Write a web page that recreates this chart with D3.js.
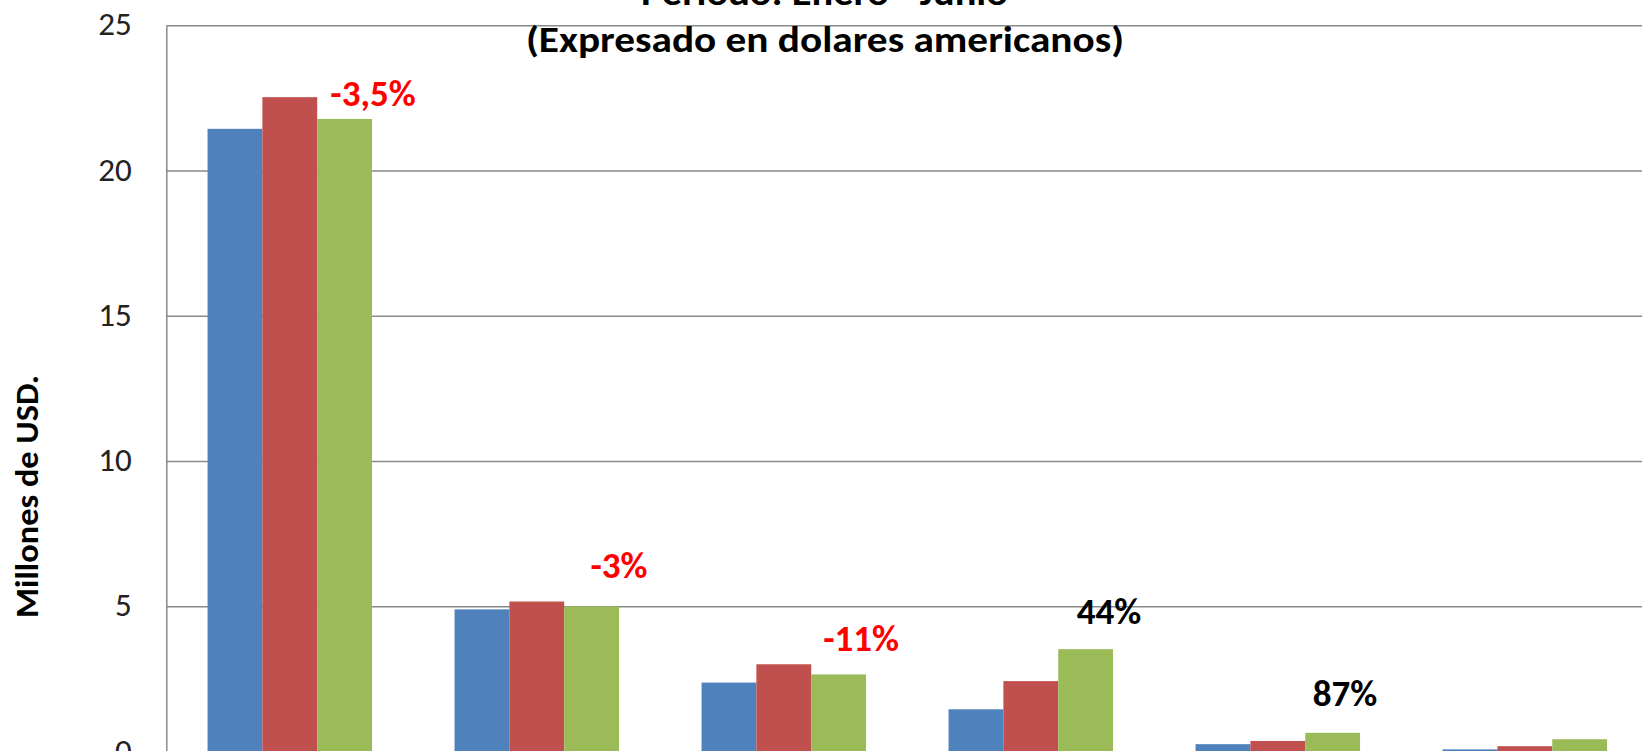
<!DOCTYPE html>
<html>
<head>
<meta charset="utf-8">
<script src="https://cdn.jsdelivr.net/npm/d3@7"></script>
<style>
  body { margin: 0; background: #fff; overflow: hidden; }
  svg { display: block; font-family: Carlito, Calibri, Lato, sans-serif; }
</style>
</head>
<body>
<svg id="chart" width="1642" height="751"></svg>
<script>
// values, millones de USD
var categorias = ["Rubro 1", "Rubro 2", "Rubro 3", "Rubro 4", "Rubro 5", "Rubro 6"];
var series = ["Año 1", "Año 2", "Año 3"];
var anio1 = [21.45, 4.91, 2.39, 1.47, 0.27, 0.09];
var anio2 = [22.54, 5.18, 3.02, 2.44, 0.38, 0.20];
var anio3 = [21.79, 5.01, 2.67, 3.54, 0.66, 0.44];
var yTicks = [0, 5, 10, 15, 20, 25];
var variacion = ["-3,5%", "-3%", "-11%", "44%", "87%"];

var colores = ["#4F81BD", "#C0504D", "#9BBB59"];
var valores = [anio1, anio2, anio3];

var svg = d3.select("#chart");

var x = d3.scaleBand()
    .domain(categorias)
    .range([166.3, 1648.3])
    .paddingInner(0.334)
    .paddingOuter(0.167);
var xs = d3.scaleBand()
    .domain(series)
    .range([0, x.bandwidth()]);
var y = d3.scaleLinear()
    .domain([0, 25])
    .range([752, 25.7]);

// gridlines
svg.append("g").selectAll("line.grid")
    .data(yTicks)
  .enter().append("line")
    .attr("x1", x.range()[0]).attr("x2", x.range()[1])
    .attr("y1", function(d) { return y(d); })
    .attr("y2", function(d) { return y(d); })
    .attr("stroke", "#8a8a8a").attr("stroke-width", 1.5);

// y axis
var yAxis = svg.append("g")
    .attr("transform", "translate(" + x.range()[0] + ",0)")
    .call(d3.axisLeft(y).tickValues(yTicks).tickSize(0).tickPadding(34.6));
yAxis.select(".domain").attr("stroke", "#8a8a8a").attr("stroke-width", 1.5);
yAxis.selectAll("text")
    .attr("font-family", "Carlito, Calibri, Lato, sans-serif")
    .attr("font-size", 33).attr("fill", "#222").attr("dy", "0.28em");

// bars
var grupos = svg.append("g").selectAll("g.grupo")
    .data(categorias)
  .enter().append("g")
    .attr("transform", function(d) { return "translate(" + x(d) + ",0)"; });
grupos.selectAll("rect")
    .data(function(d, i) {
      return series.map(function(s, j) { return { serie: s, valor: valores[j][i], color: colores[j] }; });
    })
  .enter().append("rect")
    .attr("x", function(d) { return xs(d.serie); })
    .attr("y", function(d) { return y(d.valor); })
    .attr("width", xs.bandwidth())
    .attr("height", function(d) { return y(0) - y(d.valor); })
    .attr("fill", function(d) { return d.color; });

// variation labels, placed by hand in the original, near the right edge of the last bar
var labelDx = [1, 0, -5, -4, -15];
var labelDy = [13, 28, 23, 25, 27];
svg.append("g").selectAll("text.var")
    .data(variacion)
  .enter().append("text")
    .attr("x", function(d, i) { return x(categorias[i]) + x.bandwidth() + labelDx[i]; })
    .attr("y", function(d, i) { return y(anio3[i]) - labelDy[i]; })
    .attr("text-anchor", "middle")
    .attr("font-size", 37).attr("font-weight", "bold")
    .attr("fill", function(d) { return d.charAt(0) == "-" ? "#FF0000" : "#000"; })
    .text(function(d) { return d; });

// title
svg.append("text")
    .attr("x", 824.5).attr("y", 5)
    .attr("text-anchor", "middle")
    .attr("font-size", 36).attr("font-weight", "bold")
    .attr("textLength", 367).attr("lengthAdjust", "spacingAndGlyphs")
    .text("Periodo: Enero - Junio");
svg.append("text")
    .attr("x", 825).attr("y", 51.7)
    .attr("text-anchor", "middle")
    .attr("font-size", 36).attr("font-weight", "bold")
    .attr("textLength", 598).attr("lengthAdjust", "spacingAndGlyphs")
    .text("(Expresado en dolares americanos)");

// y label
svg.append("text")
    .attr("transform", "translate(37.5,496.5) rotate(-90)")
    .attr("text-anchor", "middle")
    .attr("font-size", 32).attr("font-weight", "bold")
    .attr("textLength", 243).attr("lengthAdjust", "spacingAndGlyphs")
    .text("Millones de USD.");
</script>
</body>
</html>
